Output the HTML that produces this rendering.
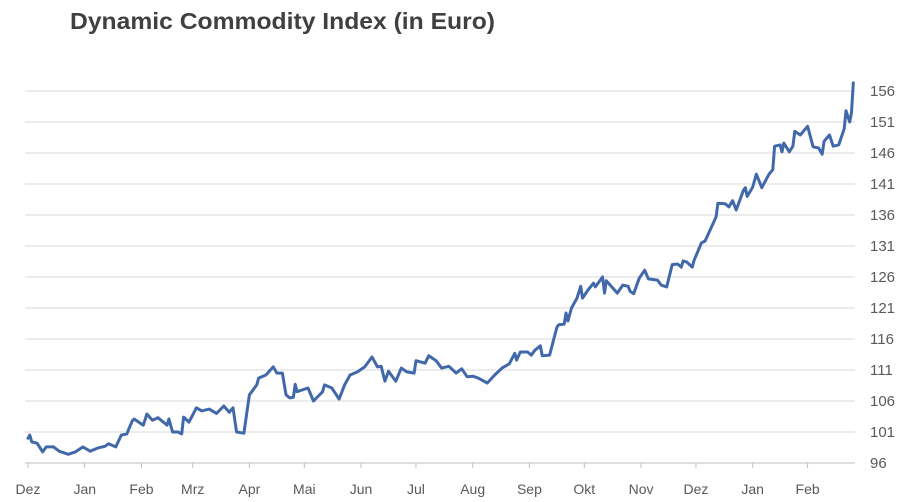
<!DOCTYPE html>
<html><head><meta charset="utf-8"><style>
html,body{margin:0;padding:0;background:#fff;}
svg{display:block;font-family:"Liberation Sans",sans-serif;}
</style></head><body>
<svg id="chart" width="920" height="502" viewBox="0 0 920 502" xmlns="http://www.w3.org/2000/svg">
<text x="70" y="29" font-size="23" font-weight="bold" fill="#404040" textLength="425" lengthAdjust="spacingAndGlyphs">Dynamic Commodity Index (in Euro)</text>
<g id="grid"></g>
<g id="yax"></g>
<g id="xax"></g>
<g id="plot"></g>
</svg>
<script>
const monthLabels=["Dez","Jan","Feb","Mrz","Apr","Mai","Jun","Jul","Aug","Sep","Okt","Nov","Dez","Jan","Feb"];
const monthDays=[0,31,62,90,121,151,182,212,243,274,304,335,365,396,426];
const yTicks=[96,101,106,111,116,121,126,131,136,141,146,151,156];
const days=[0,1,2,5,8,10,14,17,22,26,30,34,38,42,44,48,51,54,57,58,63,65,68,71,76,77,79,82,84,85,88,92,95,99,103,107,110,112,114,118,121,125,126,130,134,136,139,141,143,145,146,147,153,156,161,162,166,170,173,176,180,184,188,191,193,195,197,201,204,207,211,212,217,219,223,226,230,234,237,240,243,246,251,255,259,263,266,267,269,273,275,277,280,281,285,289,290,293,294,295,297,300,302,303,306,309,310,314,315,316,322,325,328,329,331,334,337,339,344,346,349,352,355,357,358,360,363,364,368,370,376,377,381,383,385,387,391,392,393,396,398,401,405,407,408,411,412,413,416,418,419,422,426,429,432,434,435,438,440,443,446,447,449,450,451];
const values=[100.0,100.5,99.4,99.2,97.8,98.6,98.6,97.9,97.4,97.8,98.6,97.9,98.4,98.7,99.1,98.6,100.5,100.7,102.8,103.1,102.1,103.9,102.9,103.3,102.1,103.1,101.0,101.0,100.7,103.4,102.6,104.9,104.4,104.7,104.0,105.2,104.2,104.9,101.0,100.8,107.0,108.6,109.7,110.2,111.5,110.5,110.5,107.0,106.5,106.6,108.7,107.5,108.1,106.0,107.5,108.6,108.1,106.3,108.6,110.2,110.7,111.5,113.1,111.5,111.6,109.2,110.8,109.2,111.3,110.7,110.5,112.5,112.1,113.3,112.5,111.3,111.6,110.5,111.2,109.9,110.0,109.7,108.9,110.2,111.3,112.0,113.7,112.6,113.9,113.9,113.4,114.2,114.9,113.3,113.4,117.9,118.3,118.4,120.2,118.9,121.0,122.6,124.5,122.6,123.9,125.0,124.4,126.0,123.4,125.4,123.4,124.7,124.5,123.7,123.3,125.8,127.1,125.7,125.5,124.7,124.4,128.0,128.1,127.6,128.6,128.4,127.6,128.7,131.5,131.8,135.7,137.9,137.8,137.3,138.3,136.8,140.0,140.4,139.0,140.5,142.6,140.4,142.6,143.3,147.1,147.3,146.2,147.6,146.2,147.1,149.5,148.9,150.3,147.0,146.8,145.8,147.9,148.9,147.1,147.3,149.9,152.8,151.0,152.5,157.3];
const NS="http://www.w3.org/2000/svg";
const x=d=>28+d*1.83;
const y=v=>463-(v-96)*6.2;
function mk(tag,attrs,parent){const e=document.createElementNS(NS,tag);for(const k in attrs)e.setAttribute(k,attrs[k]);parent.appendChild(e);return e;}
const grid=document.getElementById('grid'),yax=document.getElementById('yax'),xax=document.getElementById('xax'),plot=document.getElementById('plot');
yTicks.forEach(v=>{
  if(v!==96){const g=mk('line',{x1:25,x2:855,y1:y(v),y2:y(v),stroke:'#d9d9d9','stroke-width':1},grid);
  
  }
  const t=mk('text',{x:870,y:y(v)+5,'font-size':15,fill:'#595959'},yax);
  
  
  t.textContent=v;
});
const ax=mk('line',{x1:25,x2:855,y1:y(96),y2:y(96),stroke:'#bfbfbf','stroke-width':1},xax);


monthDays.forEach((d,i)=>{
  const tk=mk('line',{x1:x(d),x2:x(d),y1:y(96),y2:y(96)+5,stroke:'#bfbfbf','stroke-width':1},xax);
  
  
  const t=mk('text',{x:x(d),y:494,'font-size':14,fill:'#595959','text-anchor':'middle'},xax);
  
  
  t.textContent=monthLabels[i];
});
const pts=days.map((d,i)=>x(d).toFixed(1)+','+y(values[i]).toFixed(1)).join(' ');
const line=mk('polyline',{points:pts,fill:'none',stroke:'#4169aa','stroke-width':3,'stroke-linejoin':'round','stroke-linecap':'round'},plot);


</script>
</body></html>
